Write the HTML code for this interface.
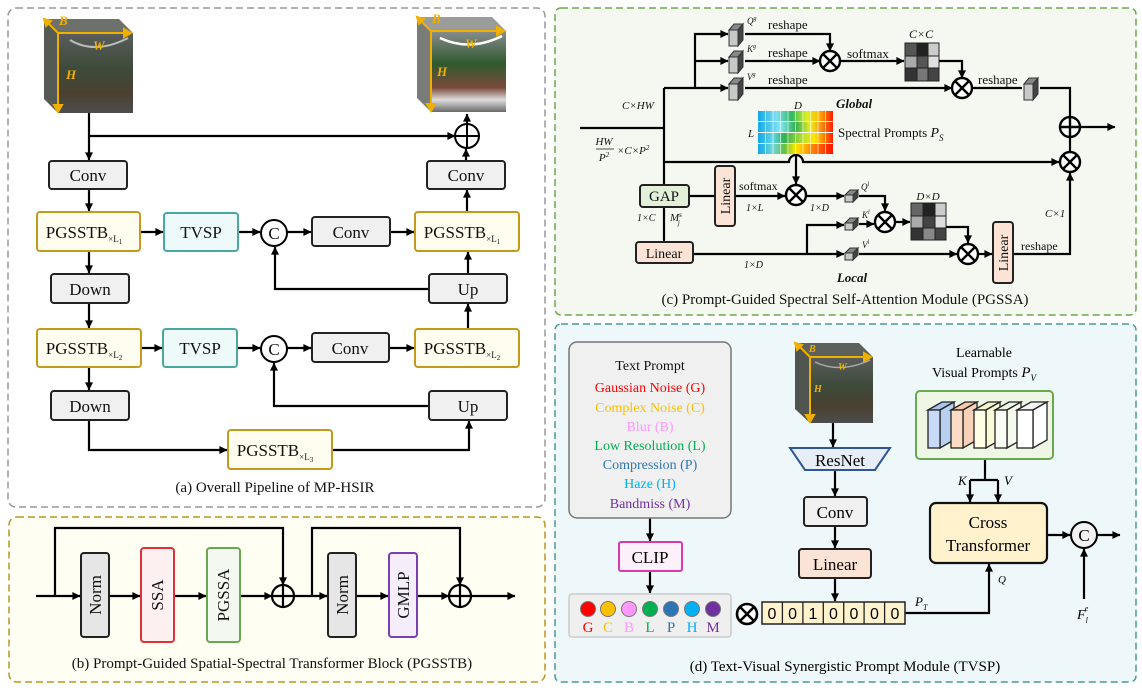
<!DOCTYPE html>
<html><head><meta charset="utf-8"><style>
html,body{margin:0;padding:0;background:#fff}
svg{display:block}
text{font-family:"Liberation Serif",serif}
</style></head><body>
<svg width="1142" height="690" viewBox="0 0 1142 690" xmlns="http://www.w3.org/2000/svg">
<defs>
<marker id="a" viewBox="0 0 10 10" refX="9.5" refY="5" markerUnits="userSpaceOnUse" markerWidth="9" markerHeight="8" orient="auto"><path d="M0,0 L10,5 L0,10 z" fill="#000"/></marker>
<linearGradient id="cubeDark" x1="0" y1="0" x2="0" y2="1"><stop offset="0" stop-color="#5a5d5a"/><stop offset="0.45" stop-color="#3d4a3a"/><stop offset="0.75" stop-color="#4a4030"/><stop offset="1" stop-color="#4d4d4d"/></linearGradient>
<linearGradient id="cubeBright" x1="0" y1="0" x2="0" y2="1"><stop offset="0" stop-color="#8a8c8c"/><stop offset="0.4" stop-color="#2f5a2f"/><stop offset="0.7" stop-color="#7a4a3a"/><stop offset="0.85" stop-color="#ddd"/><stop offset="1" stop-color="#6a6a6a"/></linearGradient>
<linearGradient id="spec1" x1="0" x2="1"><stop offset="0" stop-color="#12a6e8"/><stop offset="0.25" stop-color="#7de0f0"/><stop offset="0.45" stop-color="#2fb860"/><stop offset="0.65" stop-color="#d8f020"/><stop offset="0.8" stop-color="#ffc000"/><stop offset="1" stop-color="#ff1a00"/></linearGradient>
<linearGradient id="spec2" x1="0" x2="1"><stop offset="0" stop-color="#18a8e8"/><stop offset="0.3" stop-color="#80e8f8"/><stop offset="0.5" stop-color="#30b050"/><stop offset="0.7" stop-color="#f0f020"/><stop offset="1" stop-color="#ff2000"/></linearGradient>
<linearGradient id="spec3" x1="0" x2="1"><stop offset="0" stop-color="#12a6e8"/><stop offset="0.2" stop-color="#60d8e8"/><stop offset="0.35" stop-color="#30b050"/><stop offset="0.6" stop-color="#b8e030"/><stop offset="0.75" stop-color="#ffe800"/><stop offset="1" stop-color="#ff2000"/></linearGradient>
<linearGradient id="spec4" x1="0" x2="1"><stop offset="0" stop-color="#12a6e8"/><stop offset="0.2" stop-color="#70d8d8"/><stop offset="0.35" stop-color="#60c040"/><stop offset="0.5" stop-color="#ffe800"/><stop offset="0.7" stop-color="#ff9000"/><stop offset="1" stop-color="#ff1000"/></linearGradient>
</defs>

<!-- Panel backgrounds -->
<rect x="8" y="8" width="537" height="499" rx="8" fill="#fff" stroke="#999" stroke-width="1.5" stroke-dasharray="7,4"/>
<rect x="9" y="517" width="536" height="165" rx="8" fill="#fefef2" stroke="#b8961e" stroke-width="1.5" stroke-dasharray="7,4"/>
<rect x="555" y="8" width="581" height="307" rx="6" fill="#f4f8f0" stroke="#6aa84f" stroke-width="1.5" stroke-dasharray="7,4"/>
<rect x="555" y="324" width="581" height="358" rx="6" fill="#eef8fa" stroke="#4a9a94" stroke-width="1.5" stroke-dasharray="7,4"/>

<g stroke="#000" stroke-width="2.2" fill="none">
<!-- ===== Panel a lines ===== -->
<path d="M89,113 V160" marker-end="url(#a)"/>
<path d="M89,136 H455" marker-end="url(#a)"/>
<path d="M467,124 V114" marker-end="url(#a)"/>
<path d="M466,161 V149" marker-end="url(#a)"/>
<path d="M89,189 V211" marker-end="url(#a)"/>
<path d="M140,232 H163" marker-end="url(#a)"/>
<path d="M238,232 H260" marker-end="url(#a)"/>
<path d="M287,232 H311" marker-end="url(#a)"/>
<path d="M390,232 H414" marker-end="url(#a)"/>
<path d="M467,212 V190" marker-end="url(#a)"/>
<path d="M468,274 V252" marker-end="url(#a)"/>
<path d="M429,289 H275 V247" marker-end="url(#a)"/>
<path d="M89,251 V273" marker-end="url(#a)"/>
<path d="M89,303 V328" marker-end="url(#a)"/>
<path d="M141,348 H162" marker-end="url(#a)"/>
<path d="M237,348 H260" marker-end="url(#a)"/>
<path d="M287,348 H311" marker-end="url(#a)"/>
<path d="M389,348 H414" marker-end="url(#a)"/>
<path d="M468,329 V304" marker-end="url(#a)"/>
<path d="M429,406 H274 V363" marker-end="url(#a)"/>
<path d="M89,367 V390" marker-end="url(#a)"/>
<path d="M89,420 V450 H227" marker-end="url(#a)"/>
<path d="M332,450 H469 V421" marker-end="url(#a)"/>

<!-- ===== Panel b lines ===== -->
<path d="M36,596 H80" marker-end="url(#a)"/>
<path d="M55,596 V528 H283 V585" marker-end="url(#a)"/>
<path d="M109,596 H140" marker-end="url(#a)"/>
<path d="M174,596 H206" marker-end="url(#a)"/>
<path d="M240,596 H272" marker-end="url(#a)"/>
<path d="M294,596 H327" marker-end="url(#a)"/>
<path d="M312,596 V528 H460 V585" marker-end="url(#a)"/>
<path d="M356,596 H388" marker-end="url(#a)"/>
<path d="M417,596 H449" marker-end="url(#a)"/>
<path d="M471,596 H515" marker-end="url(#a)"/>

<!-- ===== Panel c lines ===== -->
<path d="M580,128 H664"/>
<path d="M664,88 V242"/>
<path d="M664,88 H728" marker-end="url(#a)"/>
<path d="M695,88 V34 H728" marker-end="url(#a)"/>
<path d="M695,61 H728" marker-end="url(#a)"/>
<path d="M745,34 H830 V51" marker-end="url(#a)"/>
<path d="M745,61 H820" marker-end="url(#a)"/>
<path d="M840,61 H904" marker-end="url(#a)"/>
<path d="M939,61 H962 V78" marker-end="url(#a)"/>
<path d="M745,88 H952" marker-end="url(#a)"/>
<path d="M972,88 H1022"/>
<path d="M1040,88 H1070 V117"/>
<path d="M1080,127 H1115" marker-end="url(#a)"/>
<path d="M1070,137 V152"/>
<path d="M664,162 H789 A7,7 0 0 1 803,162 H1059" marker-end="url(#a)"/>
<path d="M796,154 V184" marker-end="url(#a)"/>
<path d="M689,196 H715"/>
<path d="M735,196 H785" marker-end="url(#a)"/>
<path d="M806,196 H844" marker-end="url(#a)"/>
<path d="M859,196 H885 V211" marker-end="url(#a)"/>
<path d="M693,254 H844" marker-end="url(#a)"/>
<path d="M807,254 V225 H844" marker-end="url(#a)"/>
<path d="M859,224 H874" marker-end="url(#a)"/>
<path d="M895,222 H910" marker-end="url(#a)"/>
<path d="M946,227 H968 V243" marker-end="url(#a)"/>
<path d="M859,254 H957" marker-end="url(#a)"/>
<path d="M978,254 H992" marker-end="url(#a)"/>
<path d="M1013,254 H1070 V173" marker-end="url(#a)"/>

<!-- ===== Panel d lines ===== -->
<path d="M650,518 V541" marker-end="url(#a)"/>
<path d="M650,571 V593" marker-end="url(#a)"/>
<path d="M833,423 V447" marker-end="url(#a)"/>
<path d="M835,470 V496" marker-end="url(#a)"/>
<path d="M835,526 V548" marker-end="url(#a)"/>
<path d="M835,578 V601" marker-end="url(#a)"/>
<path d="M905,613 H989 V564" marker-end="url(#a)"/>
<path d="M985,459 V480 M970,480 H998"/>
<path d="M970,480 V502" marker-end="url(#a)"/>
<path d="M998,480 V502" marker-end="url(#a)"/>
<path d="M1047,535 H1070" marker-end="url(#a)"/>
<path d="M1097,535 H1120" marker-end="url(#a)"/>
<path d="M1084,599 V549" marker-end="url(#a)"/>
</g>

<!-- ===== Panel a cubes ===== -->
<g>
<polygon points="44,19 119,19 133,33 58,33" fill="#6e706c"/>
<polygon points="44,19 58,33 58,113 44,99" fill="#555a55"/>
<rect x="58" y="33" width="75" height="80" fill="url(#cubeDark)"/>
<path d="M70,40 Q95,55 128,38" stroke="#bbb" stroke-width="2" fill="none"/>
<g stroke="#f0b000" stroke-width="2" fill="#f0b000">
<line x1="58" y1="33" x2="47" y2="22"/><polygon points="44,19 51,21 46,26"/>
<line x1="58" y1="33" x2="126" y2="33"/><polygon points="131,33 124,29 124,37"/>
<line x1="58" y1="33" x2="58" y2="107"/><polygon points="58,112 54,105 62,105"/>
</g>
<text x="59" y="25" font-size="13" font-style="italic" font-weight="bold" fill="#f0b000">B</text>
<text x="93" y="50" font-size="13" font-style="italic" font-weight="bold" fill="#f0b000">W</text>
<text x="66" y="79" font-size="13" font-style="italic" font-weight="bold" fill="#f0b000">H</text>
</g>
<g>
<polygon points="417,17 492,17 506,31 431,31" fill="#9a9c9a"/>
<polygon points="417,17 431,31 431,112 417,98" fill="#7a7c7a"/>
<rect x="431" y="31" width="75" height="81" fill="url(#cubeBright)"/>
<path d="M440,38 Q470,52 502,36" stroke="#fff" stroke-width="2.5" fill="none"/>
<g stroke="#f0b000" stroke-width="2" fill="#f0b000">
<line x1="431" y1="31" x2="420" y2="20"/><polygon points="417,17 424,19 419,24"/>
<line x1="431" y1="31" x2="499" y2="31"/><polygon points="504,31 497,27 497,35"/>
<line x1="431" y1="31" x2="431" y2="106"/><polygon points="431,111 427,104 435,104"/>
</g>
<text x="432" y="23" font-size="13" font-style="italic" font-weight="bold" fill="#f0b000">B</text>
<text x="465" y="48" font-size="13" font-style="italic" font-weight="bold" fill="#f0b000">W</text>
<text x="437" y="76" font-size="13" font-style="italic" font-weight="bold" fill="#f0b000">H</text>
</g>

<!-- ===== Panel a boxes ===== -->
<g stroke="#222" stroke-width="2">
<rect x="49" y="161" width="78" height="28" rx="3" fill="#f0f0f0"/>
<rect x="427" y="161" width="78" height="28" rx="3" fill="#f0f0f0"/>
<rect x="37" y="212" width="103" height="39" rx="3" fill="#fefdf0" stroke="#c49a1c"/>
<rect x="164" y="213" width="74" height="38" rx="3" fill="#eef9fa" stroke="#4aa8a0"/>
<rect x="312" y="217" width="78" height="29" rx="3" fill="#f0f0f0"/>
<rect x="415" y="212" width="104" height="39" rx="3" fill="#fefdf0" stroke="#c49a1c"/>
<rect x="51" y="274" width="78" height="29" rx="3" fill="#f0f0f0"/>
<rect x="429" y="274" width="78" height="29" rx="3" fill="#f0f0f0"/>
<rect x="37" y="329" width="104" height="38" rx="3" fill="#fefdf0" stroke="#c49a1c"/>
<rect x="163" y="329" width="74" height="38" rx="3" fill="#eef9fa" stroke="#4aa8a0"/>
<rect x="312" y="333" width="77" height="29" rx="3" fill="#f0f0f0"/>
<rect x="415" y="329" width="104" height="38" rx="3" fill="#fefdf0" stroke="#c49a1c"/>
<rect x="51" y="391" width="78" height="29" rx="3" fill="#f0f0f0"/>
<rect x="429" y="391" width="78" height="29" rx="3" fill="#f0f0f0"/>
<rect x="228" y="430" width="104" height="39" rx="3" fill="#fefdf0" stroke="#c49a1c"/>
</g>
<g stroke="#000" stroke-width="2" fill="#fff">
<circle cx="467" cy="136" r="12"/><circle cx="274" cy="233" r="13"/><circle cx="274" cy="349" r="13"/>
</g>
<path d="M455,136 H479 M467,124 V148" stroke="#000" stroke-width="2"/>
<g font-size="17" text-anchor="middle" fill="#111">
<text x="88" y="181">Conv</text>
<text x="466" y="181">Conv</text>
<text x="84" y="238">PGSSTB<tspan font-size="9" dy="4">×L</tspan><tspan font-size="7" dy="2">1</tspan></text>
<text x="201" y="238">TVSP</text>
<text x="274" y="239">C</text>
<text x="351" y="238">Conv</text>
<text x="462" y="238">PGSSTB<tspan font-size="9" dy="4">×L</tspan><tspan font-size="7" dy="2">1</tspan></text>
<text x="90" y="295">Down</text>
<text x="468" y="295">Up</text>
<text x="84" y="354">PGSSTB<tspan font-size="9" dy="4">×L</tspan><tspan font-size="7" dy="2">2</tspan></text>
<text x="200" y="354">TVSP</text>
<text x="274" y="355">C</text>
<text x="350" y="354">Conv</text>
<text x="462" y="354">PGSSTB<tspan font-size="9" dy="4">×L</tspan><tspan font-size="7" dy="2">2</tspan></text>
<text x="90" y="412">Down</text>
<text x="468" y="412">Up</text>
<text x="275" y="456">PGSSTB<tspan font-size="9" dy="4">×L</tspan><tspan font-size="7" dy="2">3</tspan></text>
<text x="275" y="492" font-size="15">(a) Overall Pipeline of MP-HSIR</text>
</g>

<!-- ===== Panel b boxes ===== -->
<g stroke-width="2">
<rect x="81" y="553" width="28" height="84" rx="3" fill="#e6e6e6" stroke="#222"/>
<rect x="141" y="548" width="33" height="94" rx="3" fill="#fdf0f0" stroke="#e0303a"/>
<rect x="207" y="548" width="33" height="94" rx="3" fill="#f3f9f0" stroke="#6aa84f"/>
<rect x="328" y="553" width="28" height="84" rx="3" fill="#e6e6e6" stroke="#222"/>
<rect x="389" y="553" width="28" height="84" rx="3" fill="#f5eefa" stroke="#7a3fb0"/>
</g>
<g stroke="#000" stroke-width="2.2" fill="none">
<circle cx="283" cy="596" r="11"/><path d="M272,596 H294 M283,585 V607"/>
<circle cx="460" cy="596" r="11"/><path d="M449,596 H471 M460,585 V607"/>
</g>
<g font-size="17" fill="#111" text-anchor="middle">
<text transform="translate(101,595) rotate(-90)">Norm</text>
<text transform="translate(163,595) rotate(-90)">SSA</text>
<text transform="translate(229,595) rotate(-90)">PGSSA</text>
<text transform="translate(348,595) rotate(-90)">Norm</text>
<text transform="translate(409,595) rotate(-90)">GMLP</text>
<text x="272" y="668" font-size="15">(b) Prompt-Guided Spatial-Spectral Transformer Block (PGSSTB)</text>
</g>

<!-- ===== Panel c ===== -->
<!-- cuboids global -->
<g stroke="#333" stroke-width="1">
<g transform="translate(729,24)"><polygon points="0,6 5,0 14,0 9,6" fill="#888"/><polygon points="9,6 14,0 14,16 9,22" fill="#444"/><rect x="0" y="6" width="9" height="16" fill="#c8c8c8"/></g>
<g transform="translate(729,51)"><polygon points="0,6 5,0 14,0 9,6" fill="#888"/><polygon points="9,6 14,0 14,16 9,22" fill="#444"/><rect x="0" y="6" width="9" height="16" fill="#c8c8c8"/></g>
<g transform="translate(729,78)"><polygon points="0,6 5,0 14,0 9,6" fill="#888"/><polygon points="9,6 14,0 14,16 9,22" fill="#444"/><rect x="0" y="6" width="9" height="16" fill="#c8c8c8"/></g>
<g transform="translate(1024,78)"><polygon points="0,6 5,0 14,0 9,6" fill="#888"/><polygon points="9,6 14,0 14,16 9,22" fill="#444"/><rect x="0" y="6" width="9" height="16" fill="#c8c8c8"/></g>
<g transform="translate(845,190)"><polygon points="0,5 5,0 13,0 8,5" fill="#888"/><polygon points="8,5 13,0 13,7 8,12" fill="#444"/><rect x="0" y="5" width="8" height="7" fill="#c8c8c8"/></g>
<g transform="translate(845,218)"><polygon points="0,5 5,0 13,0 8,5" fill="#888"/><polygon points="8,5 13,0 13,7 8,12" fill="#444"/><rect x="0" y="5" width="8" height="7" fill="#c8c8c8"/></g>
<g transform="translate(845,248)"><polygon points="0,5 5,0 13,0 8,5" fill="#888"/><polygon points="8,5 13,0 13,7 8,12" fill="#444"/><rect x="0" y="5" width="8" height="7" fill="#c8c8c8"/></g>
</g>
<!-- matrices -->
<g stroke="#222" stroke-width="1">
<rect x="905" y="43" width="12" height="13" fill="#555"/><rect x="917" y="43" width="11" height="13" fill="#222"/><rect x="928" y="43" width="11" height="13" fill="#ccc"/>
<rect x="905" y="56" width="12" height="12" fill="#aaa"/><rect x="917" y="56" width="11" height="12" fill="#555"/><rect x="928" y="56" width="11" height="12" fill="#e0e0e0"/>
<rect x="905" y="68" width="12" height="13" fill="#333"/><rect x="917" y="68" width="11" height="13" fill="#777"/><rect x="928" y="68" width="11" height="13" fill="#444"/>
<rect x="911" y="203" width="12" height="13" fill="#666"/><rect x="923" y="203" width="12" height="13" fill="#222"/><rect x="935" y="203" width="11" height="13" fill="#ccc"/>
<rect x="911" y="216" width="12" height="12" fill="#aaa"/><rect x="923" y="216" width="12" height="12" fill="#444"/><rect x="935" y="216" width="11" height="12" fill="#ddd"/>
<rect x="911" y="228" width="12" height="12" fill="#333"/><rect x="923" y="228" width="12" height="12" fill="#888"/><rect x="935" y="228" width="11" height="12" fill="#444"/>
</g>
<!-- spectral prompts -->
<rect x="758" y="111" width="75" height="10" fill="url(#spec1)"/>
<rect x="758" y="122" width="75" height="10" fill="url(#spec2)"/>
<rect x="758" y="133" width="75" height="10" fill="url(#spec3)"/>
<rect x="758" y="144" width="75" height="10" fill="url(#spec4)"/>
<g stroke="#fff" stroke-width="0.8" opacity="0.7">
<path d="M765.5,111V154 M773,111V154 M780.5,111V154 M788,111V154 M795.5,111V154 M803,111V154 M810.5,111V154 M818,111V154 M825.5,111V154"/>
</g>
<!-- ops -->
<g stroke="#000" stroke-width="2.4" fill="#fff">
<circle cx="830" cy="61" r="10"/><circle cx="962" cy="88" r="10"/><circle cx="1070" cy="127" r="10"/><circle cx="1070" cy="162" r="10"/>
<circle cx="796" cy="195" r="10"/><circle cx="885" cy="222" r="10"/><circle cx="968" cy="254" r="10"/>
</g>
<g stroke="#000" stroke-width="2.4">
<path d="M823,54 L837,68 M837,54 L823,68"/>
<path d="M955,81 L969,95 M969,81 L955,95"/>
<path d="M1060,127 H1080 M1070,117 V137"/>
<path d="M1063,155 L1077,169 M1077,155 L1063,169"/>
<path d="M789,188 L803,202 M803,188 L789,202"/>
<path d="M878,215 L892,229 M892,215 L878,229"/>
<path d="M961,247 L975,261 M975,247 L961,261"/>
</g>
<!-- boxes c -->
<g stroke="#222" stroke-width="2">
<rect x="640" y="185" width="49" height="22" rx="3" fill="#e2f0d9"/>
<rect x="715" y="166" width="20" height="60" rx="3" fill="#fbe4d5"/>
<rect x="636" y="242" width="57" height="21" rx="3" fill="#fbe4d5"/>
<rect x="993" y="222" width="20" height="61" rx="3" fill="#fbe4d5"/>
</g>
<g font-size="13" fill="#111">
<text x="747" y="24" font-size="9" font-style="italic">Q<tspan font-size="6" dy="-4">g</tspan></text>
<text x="747" y="52" font-size="9" font-style="italic">K<tspan font-size="6" dy="-4">g</tspan></text>
<text x="747" y="80" font-size="9" font-style="italic">V<tspan font-size="6" dy="-4">g</tspan></text>
<text x="768" y="29">reshape</text>
<text x="768" y="57">reshape</text>
<text x="768" y="84">reshape</text>
<text x="847" y="58">softmax</text>
<text x="909" y="38" font-size="12" font-style="italic">C×C</text>
<text x="978" y="84">reshape</text>
<text x="622" y="109" font-size="11" font-style="italic">C×HW</text>
<text x="854" y="108" font-weight="bold" font-style="italic" text-anchor="middle">Global</text>
<text x="798" y="109" font-size="11" font-style="italic" text-anchor="middle">D</text>
<text x="748" y="137" font-size="11" font-style="italic">L</text>
<text x="838" y="137">Spectral Prompts <tspan font-style="italic" font-size="14">P</tspan><tspan font-size="9" font-style="italic" dy="4">S</tspan></text>
<text x="604" y="145" font-size="11" font-style="italic" text-anchor="middle">HW</text>
<path d="M596,149 H614" stroke="#111" stroke-width="0.8"/>
<text x="604" y="161" font-size="11" font-style="italic" text-anchor="middle">P<tspan font-size="7" dy="-4">2</tspan></text>
<text x="617" y="154" font-size="11" font-style="italic">×C×P<tspan font-size="7" dy="-4">2</tspan></text>
<text x="664" y="201" font-size="15" text-anchor="middle">GAP</text>
<text x="637" y="221" font-size="10" font-style="italic">1×C</text>
<text x="670" y="221" font-size="11" font-style="italic">M<tspan font-size="7" dy="-4">s</tspan><tspan font-size="7" dx="-4" dy="8">j</tspan></text>
<text transform="translate(730,196) rotate(-90)" font-size="14" text-anchor="middle">Linear</text>
<text x="739" y="190" font-size="12">softmax</text>
<text x="746" y="211" font-size="10" font-style="italic">1×L</text>
<text x="810" y="211" font-size="10" font-style="italic">1×D</text>
<text x="861" y="190" font-size="9" font-style="italic">Q<tspan font-size="6" dy="-4">l</tspan></text>
<text x="862" y="218" font-size="9" font-style="italic">K<tspan font-size="6" dy="-4">l</tspan></text>
<text x="862" y="248" font-size="9" font-style="italic">V<tspan font-size="6" dy="-4">l</tspan></text>
<text x="928" y="200" font-size="11" font-style="italic" text-anchor="middle">D×D</text>
<text x="664" y="258" font-size="14" text-anchor="middle">Linear</text>
<text x="744" y="268" font-size="10" font-style="italic">1×D</text>
<text transform="translate(1008,253) rotate(-90)" font-size="14" text-anchor="middle">Linear</text>
<text x="1021" y="250" font-size="12">reshape</text>
<text x="1045" y="217" font-size="11" font-style="italic">C×1</text>
<text x="852" y="282" font-weight="bold" font-style="italic" text-anchor="middle">Local</text>
<text x="845" y="304" font-size="15" text-anchor="middle">(c) Prompt-Guided Spectral Self-Attention Module (PGSSA)</text>
</g>

<!-- ===== Panel d ===== -->
<rect x="569" y="342" width="162" height="176" rx="8" fill="#f0f0f0" stroke="#777" stroke-width="1.5"/>
<g font-size="14" text-anchor="middle">
<text x="650" y="370" fill="#111">Text Prompt</text>
<text x="650" y="392" fill="#ff0000">Gaussian Noise (G)</text>
<text x="650" y="412" fill="#ffc000">Complex Noise (C)</text>
<text x="650" y="431" fill="#ff99ff">Blur (B)</text>
<text x="650" y="450" fill="#00b050">Low Resolution (L)</text>
<text x="650" y="469" fill="#2e75b6">Compression (P)</text>
<text x="650" y="488" fill="#00b0f0">Haze (H)</text>
<text x="650" y="508" fill="#7030a0">Bandmiss (M)</text>
</g>
<rect x="619" y="542" width="63" height="29" rx="2" fill="#fdf0fa" stroke="#d63ab0" stroke-width="2"/>
<text x="650" y="563" font-size="17" text-anchor="middle">CLIP</text>
<rect x="569" y="594" width="162" height="43" rx="3" fill="#efefef" stroke="#ccc" stroke-width="1.5"/>
<g stroke="#777" stroke-width="1">
<circle cx="588" cy="609" r="7.5" fill="#ff0000"/><circle cx="608" cy="609" r="7.5" fill="#ffc000"/><circle cx="629" cy="609" r="7.5" fill="#ff99ff"/><circle cx="650" cy="609" r="7.5" fill="#00b050"/><circle cx="671" cy="609" r="7.5" fill="#2e75b6"/><circle cx="692" cy="609" r="7.5" fill="#00b0f0"/><circle cx="713" cy="609" r="7.5" fill="#7030a0"/>
</g>
<g font-size="15" text-anchor="middle">
<text x="588" y="632" fill="#ff0000">G</text><text x="608" y="632" fill="#ffc000">C</text><text x="629" y="632" fill="#ff99ff">B</text><text x="650" y="632" fill="#00b050">L</text><text x="671" y="632" fill="#2e75b6">P</text><text x="692" y="632" fill="#00b0f0">H</text><text x="713" y="632" fill="#7030a0">M</text>
</g>
<circle cx="747" cy="614" r="10" fill="#fff" stroke="#000" stroke-width="2.6"/>
<path d="M740,607 L754,621 M754,607 L740,621" stroke="#000" stroke-width="2.6"/>
<rect x="762" y="602" width="143" height="22" fill="#fff2cc" stroke="#222" stroke-width="1.5"/>
<path d="M782.4,602V624 M802.9,602V624 M823.3,602V624 M843.7,602V624 M864.1,602V624 M884.6,602V624" stroke="#222" stroke-width="1.3"/>
<g font-size="16" text-anchor="middle" font-family="Liberation Sans, sans-serif">
<text x="772" y="619" style="font-family:'Liberation Sans',sans-serif">0</text><text x="792.6" y="619" style="font-family:'Liberation Sans',sans-serif">0</text><text x="813" y="619" style="font-family:'Liberation Sans',sans-serif">1</text><text x="833.5" y="619" style="font-family:'Liberation Sans',sans-serif">0</text><text x="854" y="619" style="font-family:'Liberation Sans',sans-serif">0</text><text x="874.4" y="619" style="font-family:'Liberation Sans',sans-serif">0</text><text x="895" y="619" style="font-family:'Liberation Sans',sans-serif">0</text>
</g>
<!-- cube d -->
<g>
<polygon points="795,343 859,343 873,357 810,357" fill="#5e605c"/>
<polygon points="795,343 810,357 810,423 795,409" fill="#505550"/>
<rect x="810" y="357" width="63" height="66" fill="url(#cubeDark)"/>
<path d="M815,362 Q840,374 870,360" stroke="#aaa" stroke-width="1.5" fill="none"/>
<g stroke="#f0b000" stroke-width="2" fill="#f0b000">
<line x1="810" y1="357" x2="799" y2="346"/><polygon points="795,343 802,345 797,350"/>
<line x1="810" y1="357" x2="866" y2="357"/><polygon points="871,357 864,353 864,361"/>
<line x1="810" y1="357" x2="810" y2="417"/><polygon points="810,422 806,415 814,415"/>
</g>
<text x="809" y="352" font-size="10" font-style="italic" font-weight="bold" fill="#f0b000">B</text>
<text x="838" y="370" font-size="10" font-style="italic" font-weight="bold" fill="#f0b000">W</text>
<text x="814" y="392" font-size="10" font-style="italic" font-weight="bold" fill="#f0b000">H</text>
</g>
<polygon points="790,448 890,448 875,470 805,470" fill="#e8eef8" stroke="#2f5597" stroke-width="2"/>
<text x="840" y="466" font-size="17" text-anchor="middle">ResNet</text>
<rect x="804" y="497" width="63" height="29" rx="3" fill="#f0f0f0" stroke="#222" stroke-width="2"/>
<text x="835" y="518" font-size="17" text-anchor="middle">Conv</text>
<rect x="799" y="549" width="72" height="29" rx="3" fill="#fbe4d5" stroke="#222" stroke-width="2"/>
<text x="835" y="570" font-size="17" text-anchor="middle">Linear</text>
<text x="984" y="357" font-size="14" text-anchor="middle">Learnable</text>
<text x="984" y="377" font-size="14" text-anchor="middle">Visual Prompts <tspan font-style="italic" font-size="15">P</tspan><tspan font-style="italic" font-size="9" dy="4">V</tspan></text>
<rect x="916" y="391" width="137" height="68" rx="4" fill="#eef6e6" stroke="#6aa84f" stroke-width="2"/>
<g stroke="#222" stroke-width="1.3">
<g transform="translate(928,402)"><polygon points="0,8 14,0 26,0 12,8" fill="#a8c4ec"/><polygon points="12,8 26,0 26,38 12,46" fill="#b8d0f0"/><rect x="0" y="8" width="12" height="38" fill="#c9daf8"/></g>
<g transform="translate(951,402)"><polygon points="0,8 14,0 26,0 12,8" fill="#f4c8a8"/><polygon points="12,8 26,0 26,38 12,46" fill="#f8d2b8"/><rect x="0" y="8" width="12" height="38" fill="#fcdcc4"/></g>
<g transform="translate(974,402)"><polygon points="0,8 14,0 26,0 12,8" fill="#f4f4c8"/><polygon points="12,8 26,0 26,38 12,46" fill="#fafad8"/><rect x="0" y="8" width="12" height="38" fill="#fefee4"/></g>
<g transform="translate(995,402)"><polygon points="0,8 14,0 26,0 12,8" fill="#eef6e4"/><polygon points="12,8 26,0 26,38 12,46" fill="#f4faec"/><rect x="0" y="8" width="12" height="38" fill="#f8fcf2"/></g>
<g transform="translate(1017,402)"><polygon points="0,8 14,0 30,0 16,8" fill="#f4f4f4"/><polygon points="16,8 30,0 30,38 16,46" fill="#fff"/><rect x="0" y="8" width="16" height="38" fill="#fff"/></g>
</g>
<text x="958" y="485" font-size="13" font-style="italic">K</text>
<text x="1004" y="485" font-size="13" font-style="italic">V</text>
<rect x="930" y="503" width="117" height="60" rx="6" fill="#fff2cc" stroke="#111" stroke-width="2.2"/>
<text x="988" y="528" font-size="17" text-anchor="middle">Cross</text>
<text x="988" y="551" font-size="17" text-anchor="middle">Transformer</text>
<circle cx="1084" cy="535" r="13" fill="#f2f2f2" stroke="#000" stroke-width="2"/>
<text x="1084" y="541" font-size="17" text-anchor="middle">C</text>
<text x="915" y="606" font-size="13" font-style="italic">P<tspan font-size="8" dy="4">T</tspan></text>
<text x="998" y="583" font-size="11" font-style="italic">Q</text>
<text x="1077" y="619" font-size="14" font-style="italic">F<tspan font-size="8" dy="4">l</tspan><tspan font-size="8" dx="-3" dy="-12">e</tspan></text>
<text x="845" y="671" font-size="15" text-anchor="middle">(d) Text-Visual Synergistic Prompt Module (TVSP)</text>
</svg>
</body></html>
